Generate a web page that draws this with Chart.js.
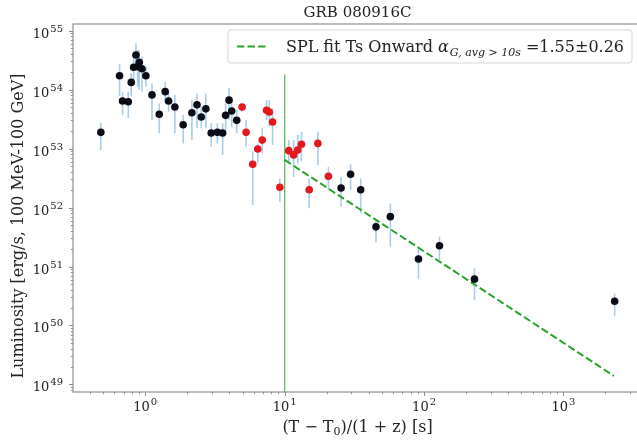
<!DOCTYPE html>
<html>
<head>
<meta charset="utf-8">
<script src="https://cdn.jsdelivr.net/npm/chart.js@4.4.1/dist/chart.umd.min.js"></script>
<style>
  html, body { margin: 0; padding: 0; background: #ffffff; overflow: hidden; width: 637px; height: 441px; }
  canvas { display: block; }
</style>
</head>
<body>
<canvas id="c" width="646" height="441"></canvas>
<script>
// GRB 080916C — LAT luminosity light curve (100 MeV – 100 GeV)
// The axes run slightly past the right edge of the 637 px view, so the canvas is a little wider.

// Intervals outside the fitted segment (black)
const timeBlack = [0.48, 0.654, 0.687, 0.755, 0.793, 0.825, 0.857, 0.882, 0.905, 0.947,
  1.01, 1.117, 1.26, 1.39, 1.47, 1.63, 1.87, 2.16, 2.35, 2.52, 2.72, 2.97, 3.29, 3.59,
  3.77, 3.99, 4.17, 4.53, 25.4, 29.7, 35.1, 45.2, 57.3, 91.2, 129, 230, 2330];
const lumBlack = [1.88e53, 1.71e54, 6.4e53, 6.2e53, 1.32e54, 2.38e54, 3.85e54, 2.43e54, 2.89e54, 2.25e54,
  1.71e54, 8.1e53, 3.8e53, 9.2e53, 6.4e53, 5.05e53, 2.53e53, 4.05e53, 5.5e53, 3.42e53, 4.7e53, 1.83e53, 1.88e53, 1.83e53,
  3.65e53, 6.6e53, 4.32e53, 3.0e53, 2.14e52, 3.66e52, 2.0e52, 4.7e51, 7.0e51, 1.34e51, 2.25e51, 6.1e50, 2.57e50];
const lumBlackLo = [9.4e52, 7.8e53, 3.7e53, 3.3e53, 7.8e53, 1.45e54, 2.43e54, 1.11e54, 9.8e53, 9.2e53,
  1.11e54, 3.04e53, 1.81e53, 5.8e53, 4.2e53, 1.81e53, 1.22e53, 1.39e53, 2.2e53, 2.2e53, 2.2e53, 1.07e53, 1.22e53, 7.8e52,
  2.06e53, 3.04e53, 2.34e53, 1.81e53, 1.03e52, 1.98e52, 8.0e51, 2.6e51, 2.17e51, 6.1e50, 1.29e51, 2.7e50, 1.47e50];
const lumBlackHi = [2.7e53, 2.67e54, 9.2e53, 9.2e53, 1.88e54, 3.6e54, 6.1e54, 4.67e54, 4.67e54, 3.6e54,
  2.43e54, 1.27e54, 5.8e53, 1.36e54, 9.2e53, 8.1e53, 3.7e53, 6.6e53, 8.6e53, 5.1e53, 8.6e53, 2.67e53, 2.67e53, 2.67e53,
  5.8e53, 1.05e54, 5.8e53, 4.5e53, 3.3e52, 5.4e52, 3.1e52, 6.1e51, 1.18e52, 2.03e51, 3.2e51, 9.3e50, 3.5e50];

// Highlighted intervals (red)
const timeRed = [4.95, 5.29, 5.90, 6.41, 6.90, 7.41, 7.75, 8.19, 9.23, 10.7, 11.6, 12.4, 13.2, 15.0, 17.3, 20.6];
const lumRed = [5.05e53, 1.88e53, 5.4e52, 9.8e52, 1.39e53, 4.44e53, 4.16e53, 2.81e53, 2.2e52, 9.2e52,
  7.8e52, 9.4e52, 1.18e53, 2.0e52, 1.22e53, 3.38e52];
const lumRedLo = [4.2e53, 1.07e53, 1.1e52, 5.6e52, 8.3e52, 3.04e53, 2.34e53, 1.15e53, 1.25e52, 5.6e52,
  3.3e52, 5.6e52, 6.0e52, 9.7e51, 5.25e52, 1.98e52];
const lumRedHi = [5.8e53, 3.04e53, 8.8e52, 1.22e53, 2.2e53, 6.6e53, 6.6e53, 4.8e53, 3.1e52, 1.39e53,
  1.39e53, 1.69e53, 1.93e53, 3.1e52, 1.93e53, 4.9e52];

// Simple power-law fit from Ts onward
const fitStart = 10;
const fitEnd = 2300;
const fitNorm = 6.4e52;   // luminosity at fitStart
const fitIndex = 1.55;
const fitIndexErr = 0.26;

// Ts marker
const tsTime = 10;
const tsLineTop = 1.8e54;

// Axis ranges and labelled decades
const xRange = [0.303, 3660];
const yRange = [7.46e48, 1.29e55];
const xTickExponents = [0, 1, 2, 3];
const yTickExponents = [49, 50, 51, 52, 53, 54, 55];

const titleText = 'GRB 080916C';
const xTitleParts = ['(T \u2212 T', '0', ')/(1 + z) [s]'];
const yTitleText = 'Luminosity [erg/s, 100 MeV-100 GeV]';
const legendParts = ['SPL fit Ts Onward ', '\u03B1', 'G, avg > 10s', ' =' + fitIndex.toFixed(2) + '\u00B1' + fitIndexErr.toFixed(2)];

const SERIF = '"DejaVu Serif", "Liberation Serif", serif';
const FRAME = '#8f8f8f';
const VIEW_WIDTH = 637;

function toPoints(xs, ys) {
  return xs.map((x, i) => ({ x: x, y: ys[i] }));
}
function errorSegments(xs, lo, hi) {
  const out = [];
  xs.forEach((x, i) => {
    out.push({ x: x, y: lo[i] }, { x: x, y: hi[i] }, { x: x, y: null });
  });
  return out;
}

const fitLine = [
  { x: fitStart, y: fitNorm },
  { x: fitEnd, y: fitNorm * Math.pow(fitEnd / fitStart, -fitIndex) }
];
const tsLine = [{ x: tsTime, y: tsLineTop }, { x: tsTime, y: yRange[0] }];

// Frame, log ticks, text and legend in matplotlib style
const decorations = {
  id: 'decorations',
  afterDatasetsDraw(chart) {
    const { ctx, chartArea: a, scales } = chart;
    const xs = scales.x, ys = scales.y;
    ctx.save();
    // frame
    ctx.strokeStyle = FRAME;
    ctx.lineWidth = 1.2;
    ctx.strokeRect(a.left, a.top, a.right - a.left, a.bottom - a.top);

    // ticks
    ctx.lineWidth = 1;
    const drawTicks = (scale, lo, hi, horizontal) => {
      for (let e = Math.floor(Math.log10(lo)); e <= Math.ceil(Math.log10(hi)); e++) {
        for (let k = 1; k <= 9; k++) {
          const v = k * Math.pow(10, e);
          if (v < lo || v > hi) continue;
          const p = Math.round(scale.getPixelForValue(v)) + 0.5;
          const len = k === 1 ? 4 : 2.2;
          ctx.beginPath();
          if (horizontal) { ctx.moveTo(p, a.bottom); ctx.lineTo(p, a.bottom + len); }
          else { ctx.moveTo(a.left, p); ctx.lineTo(a.left - len, p); }
          ctx.stroke();
        }
      }
    };
    drawTicks(xs, xRange[0], xRange[1], true);
    drawTicks(ys, yRange[0], yRange[1], false);

    // tick labels (10 with superscript exponent)
    ctx.fillStyle = '#222';
    ctx.textBaseline = 'alphabetic';
    const baseFont = '13px ' + SERIF, expFont = '10px ' + SERIF;
    const labelWidth = (exp) => {
      ctx.font = baseFont; const wb = ctx.measureText('10').width;
      ctx.font = expFont; const we = ctx.measureText(String(exp)).width;
      return [wb, we];
    };
    xTickExponents.forEach(exp => {
      const px = xs.getPixelForValue(Math.pow(10, exp));
      const [wb, we] = labelWidth(exp);
      const x0 = px - (wb + we + 1) / 2;
      ctx.textAlign = 'left';
      ctx.font = baseFont; ctx.fillText('10', x0, a.bottom + 19);
      ctx.font = expFont; ctx.fillText(String(exp), x0 + wb + 1, a.bottom + 13);
    });
    yTickExponents.forEach(exp => {
      const py = ys.getPixelForValue(Math.pow(10, exp));
      const [wb, we] = labelWidth(exp);
      const xr = a.left - 10;
      ctx.textAlign = 'left';
      ctx.font = baseFont; ctx.fillText('10', xr - we - 1 - wb, py + 7);
      ctx.font = expFont; ctx.fillText(String(exp), xr - we, py + 1);
    });

    // title
    const cx = (a.left + a.right) / 2;
    ctx.fillStyle = '#222';
    ctx.textAlign = 'center';
    ctx.font = '15px ' + SERIF;
    ctx.fillText(titleText, cx, a.top - 7);

    // x axis title with subscript
    const f1 = '16px ' + SERIF, fs = '11px ' + SERIF;
    ctx.font = f1; const w0 = ctx.measureText(xTitleParts[0]).width;
    ctx.font = fs; const w1 = ctx.measureText(xTitleParts[1]).width;
    ctx.font = f1; const w2 = ctx.measureText(xTitleParts[2]).width;
    let xx = cx - (w0 + w1 + w2) / 2;
    const by = a.bottom + 40;
    ctx.textAlign = 'left';
    ctx.font = f1; ctx.fillText(xTitleParts[0], xx, by); xx += w0;
    ctx.font = fs; ctx.fillText(xTitleParts[1], xx, by + 3); xx += w1;
    ctx.font = f1; ctx.fillText(xTitleParts[2], xx, by);

    // y axis title
    ctx.save();
    ctx.translate(23, (a.top + a.bottom) / 2 + 18);
    ctx.rotate(-Math.PI / 2);
    ctx.textAlign = 'center';
    ctx.font = f1;
    ctx.fillText(yTitleText, 0, 0);
    ctx.restore();
    ctx.restore();
  },
  afterDraw(chart) {
    const { ctx, chartArea: a } = chart;
    ctx.save();
    const f = '16px ' + SERIF;
    const fa = 'italic 16px ' + SERIF;
    const fsub = 'italic 11px ' + SERIF;
    ctx.font = f; const t0 = ctx.measureText(legendParts[0]).width;
    ctx.font = fa; const t1 = ctx.measureText(legendParts[1]).width;
    ctx.font = fsub; const t2 = ctx.measureText(legendParts[2]).width;
    ctx.font = f; const t3 = ctx.measureText(legendParts[3]).width;
    const right = VIEW_WIDTH - 5, top = a.top + 6, h = 33;
    const textW = t0 + t1 + t2 + t3 + 1;
    const left = right - textW - 66;
    // box
    ctx.beginPath();
    ctx.roundRect(left, top, right - left, h, 3);
    ctx.fillStyle = 'rgba(255,255,255,0.85)';
    ctx.fill();
    ctx.strokeStyle = '#d6d6d6';
    ctx.lineWidth = 1;
    ctx.stroke();
    // line sample
    const ly = top + 16.5;
    ctx.beginPath();
    ctx.setLineDash([7.4, 3.2]);
    ctx.strokeStyle = '#27a327';
    ctx.lineWidth = 2;
    ctx.moveTo(left + 9, ly);
    ctx.lineTo(left + 40, ly);
    ctx.stroke();
    ctx.setLineDash([]);
    // text
    let x = left + 58;
    const by = top + 22;
    ctx.fillStyle = '#222';
    ctx.textAlign = 'left';
    ctx.textBaseline = 'alphabetic';
    ctx.font = f; ctx.fillText(legendParts[0], x, by); x += t0;
    ctx.font = fa; ctx.fillText(legendParts[1], x, by); x += t1 + 1;
    ctx.font = fsub; ctx.fillText(legendParts[2], x, by + 4); x += t2;
    ctx.font = f; ctx.fillText(legendParts[3], x, by);
    ctx.restore();
  }
};

new Chart(document.getElementById('c'), {
  type: 'scatter',
  data: {
    datasets: [
      {
        label: 'black',
        data: toPoints(timeBlack, lumBlack),
        backgroundColor: '#0b0b16',
        borderWidth: 0,
        pointRadius: 3.8,
        order: 0
      },
      {
        label: 'red',
        data: toPoints(timeRed, lumRed),
        backgroundColor: '#e3191c',
        borderWidth: 0,
        pointRadius: 3.8,
        order: 0
      },
      {
        label: 'SPL fit',
        data: fitLine,
        showLine: true,
        borderColor: '#27a327',
        borderWidth: 2,
        borderDash: [7.4, 3.2],
        pointRadius: 0,
        order: 1
      },
      {
        label: 'errors',
        data: errorSegments(timeBlack.concat(timeRed), lumBlackLo.concat(lumRedLo), lumBlackHi.concat(lumRedHi)),
        showLine: true,
        spanGaps: false,
        borderColor: '#a9cde9',
        borderWidth: 1.6,
        pointRadius: 0,
        order: 2
      },
      {
        label: 'Ts',
        data: tsLine,
        showLine: true,
        borderColor: 'rgba(70,185,70,0.6)',
        borderWidth: 1,
        pointRadius: 0,
        order: 3
      }
    ]
  },
  options: {
    responsive: false,
    devicePixelRatio: 1,
    animation: false,
    events: [],
    layout: { padding: { left: 73, right: 3, top: 24, bottom: 49 } },
    plugins: { legend: { display: false }, tooltip: { enabled: false }, title: { display: false } },
    scales: {
      x: {
        type: 'logarithmic',
        min: xRange[0], max: xRange[1],
        bounds: 'data',
        grid: { display: false, drawTicks: false },
        border: { display: false },
        ticks: { display: false }
      },
      y: {
        type: 'logarithmic',
        min: yRange[0], max: yRange[1],
        bounds: 'data',
        grid: { display: false, drawTicks: false },
        border: { display: false },
        ticks: { display: false }
      }
    }
  },
  plugins: [decorations]
});
</script>
</body>
</html>
